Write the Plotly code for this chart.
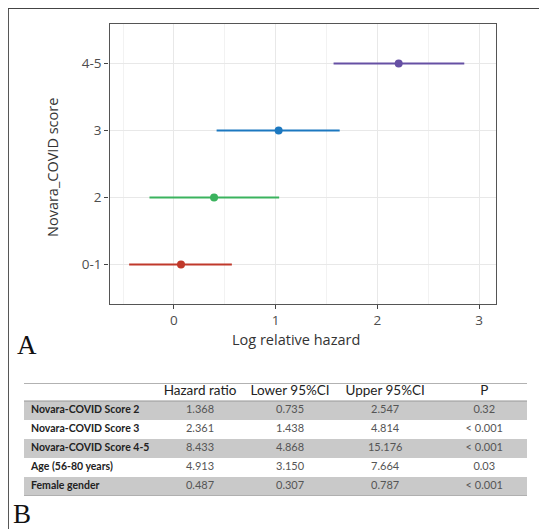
import plotly.graph_objects as go

# ---------------- data ----------------
categories = ["0-1", "2", "3", "4-5"]
estimate = [0.07, 0.395, 1.03, 2.21]
lower = [-0.44, -0.24, 0.42, 1.57]
upper = [0.57, 1.035, 1.63, 2.855]
point_colors = ["#C0392B", "#3BB35E", "#1C78C0", "#6650A4"]

x_ticks = [0, 1, 2, 3]

table_headers = ["", "Hazard ratio", "Lower 95%CI", "Upper 95%CI", "P"]
row_labels = ["Novara-COVID Score 2", "Novara-COVID Score 3", "Novara-COVID Score 4-5",
              "Age (56-80 years)", "Female gender"]
hazard_ratio = ["1.368", "2.361", "8.433", "4.913", "0.487"]
lower_ci = ["0.735", "1.438", "4.868", "3.150", "0.307"]
upper_ci = ["2.547", "4.814", "15.176", "7.664", "0.787"]
p_values = ["0.32", "< 0.001", "< 0.001", "0.03", "< 0.001"]

# ---------------- figure ----------------
# page body has an 8px margin; work in page pixels and convert
OFF = 8
W, H = 547 - OFF, 529 - OFF
fig = go.Figure()


def px_x(p):
    return (p - OFF) / W


def px_y(p):
    return 1 - (p - OFF) / H


for cat, est, lo, hi, col in zip(categories, estimate, lower, upper, point_colors):
    fig.add_trace(go.Scatter(
        x=[est], y=[cat], mode="markers",
        marker=dict(color=col, size=8),
        error_x=dict(type="data", symmetric=False, array=[hi - est], arrayminus=[est - lo],
                     color=col, thickness=2, width=0),
        showlegend=False, xaxis="x", yaxis="y", hoverinfo="skip",
    ))

# ---------------- table (drawn on its own hidden axes) ----------------
n_rows = len(row_labels)
row_idx = list(range(n_rows))
gray = "#c9c9c9"
# table page geometry
tbl_left, tbl_right, tbl_top = 24, 527, 383
row_px = 19
hdr_units = 1.447  # header band height in row units, measured from top rule to first row
tbl_bottom = tbl_top + row_px * (hdr_units - 0.5 + n_rows)
col_centers = [0.014, 0.35, 0.529, 0.718, 0.915]  # fraction of table width
head_row = -1

# shaded rows
shaded = [i for i in row_idx if i % 2 == 0]
fig.add_trace(go.Bar(
    y=shaded, x=[1] * len(shaded), base=0, orientation="h", width=1,
    marker=dict(color=gray, line=dict(width=0)),
    xaxis="x2", yaxis="y2", showlegend=False, hoverinfo="skip",
))

# header texts
for j in range(1, 5):
    fig.add_trace(go.Scatter(
        x=[col_centers[j]], y=[head_row], mode="text", text=[table_headers[j]],
        textposition="middle center",
        textfont=dict(family="Lato", size=13.5, color="#222"),
        xaxis="x2", yaxis="y2", showlegend=False, hoverinfo="skip",
    ))

# label column
fig.add_trace(go.Scatter(
    x=[col_centers[0]] * n_rows, y=row_idx, mode="text",
    text=["<b>%s</b>" % r for r in row_labels], textposition="middle right",
    textfont=dict(family="Lato", size=10.5, color="#222"),
    xaxis="x2", yaxis="y2", showlegend=False, hoverinfo="skip",
))

# value columns
for j, col_vals in enumerate([hazard_ratio, lower_ci, upper_ci, p_values], start=1):
    fig.add_trace(go.Scatter(
        x=[col_centers[j]] * n_rows, y=row_idx, mode="text", text=col_vals,
        textposition="middle center",
        textfont=dict(family="Lato", size=11, color="#555"),
        xaxis="x2", yaxis="y2", showlegend=False, hoverinfo="skip",
    ))

fig.update_layout(
    width=W, height=H,
    margin=dict(l=0, r=0, t=0, b=0),
    paper_bgcolor="white", plot_bgcolor="white",
    font=dict(family="Open Sans", color="#333"),
    bargap=0,
    xaxis=dict(
        domain=[px_x(109.5), px_x(495.5)],
        range=[-0.633, 3.162],
        tickvals=x_ticks, ticks="outside", ticklen=4, tickwidth=1.2, tickcolor="#444",
        tickfont=dict(size=13.5, color="#4d4d4d", family="Open Sans"),
        showgrid=True, gridcolor="#e8e8e8", gridwidth=1,
        minor=dict(dtick=0.5, tick0=0, showgrid=True, gridcolor="#f2f2f2", gridwidth=1),
        showline=True, mirror=True, linecolor="#555", linewidth=1.4,
        zeroline=False, anchor="y",
    ),
    yaxis=dict(
        domain=[px_y(304), px_y(24)],
        type="category", categoryorder="array", categoryarray=categories,
        range=[-0.59, 3.59],
        ticks="outside", ticklen=4, tickwidth=1.2, tickcolor="#444",
        tickfont=dict(size=13.5, color="#4d4d4d", family="Open Sans"),
        showgrid=True, gridcolor="#e8e8e8", gridwidth=1,
        showline=True, mirror=True, linecolor="#555", linewidth=1.4,
        zeroline=False, anchor="x",
    ),
    xaxis2=dict(
        domain=[px_x(tbl_left), px_x(tbl_right)], range=[0, 1],
        visible=False, fixedrange=True, anchor="y2",
    ),
    yaxis2=dict(
        domain=[px_y(tbl_bottom), px_y(tbl_top)],
        range=[n_rows - 0.5, -hdr_units],
        visible=False, fixedrange=True, anchor="x2",
    ),
)

# axis titles and panel letters
fig.add_annotation(text="Log relative hazard", x=px_x(296), y=px_y(339), xref="paper", yref="paper",
                   showarrow=False, font=dict(size=14.5, color="#333", family="Open Sans"),
                   xanchor="center", yanchor="middle")
fig.add_annotation(text="Novara_COVID score", x=px_x(52), y=px_y(168), xref="paper", yref="paper",
                   showarrow=False, textangle=-90, font=dict(size=14.5, color="#333", family="Open Sans"),
                   xanchor="center", yanchor="middle")
fig.add_annotation(text="A", x=px_x(15), y=px_y(345), xref="paper", yref="paper",
                   showarrow=False, font=dict(size=27, color="#111", family="Liberation Serif"),
                   xanchor="left", yanchor="middle")
fig.add_annotation(text="B", x=px_x(11), y=px_y(514), xref="paper", yref="paper",
                   showarrow=False, font=dict(size=27, color="#111", family="Liberation Serif"),
                   xanchor="left", yanchor="middle")

shapes = []
# outer frame
shapes.append(dict(type="line", xref="paper", yref="paper", x0=px_x(8), x1=1, y0=px_y(8), y1=px_y(8),
                   line=dict(color="#444", width=1.8)))
shapes.append(dict(type="line", xref="paper", yref="paper", x0=px_x(8), x1=px_x(8), y0=0, y1=px_y(8),
                   line=dict(color="#444", width=1.8)))
# table rules (top, under header, bottom)
for yy, c in [(-hdr_units, "#666"), (-0.5, "#999"), (n_rows - 0.5, "#999")]:
    shapes.append(dict(type="line", xref="x2 domain", yref="y2", x0=0, x1=1,
                       y0=yy, y1=yy, line=dict(color=c, width=1)))
fig.update_layout(shapes=shapes)

fig.write_html("out.html")
